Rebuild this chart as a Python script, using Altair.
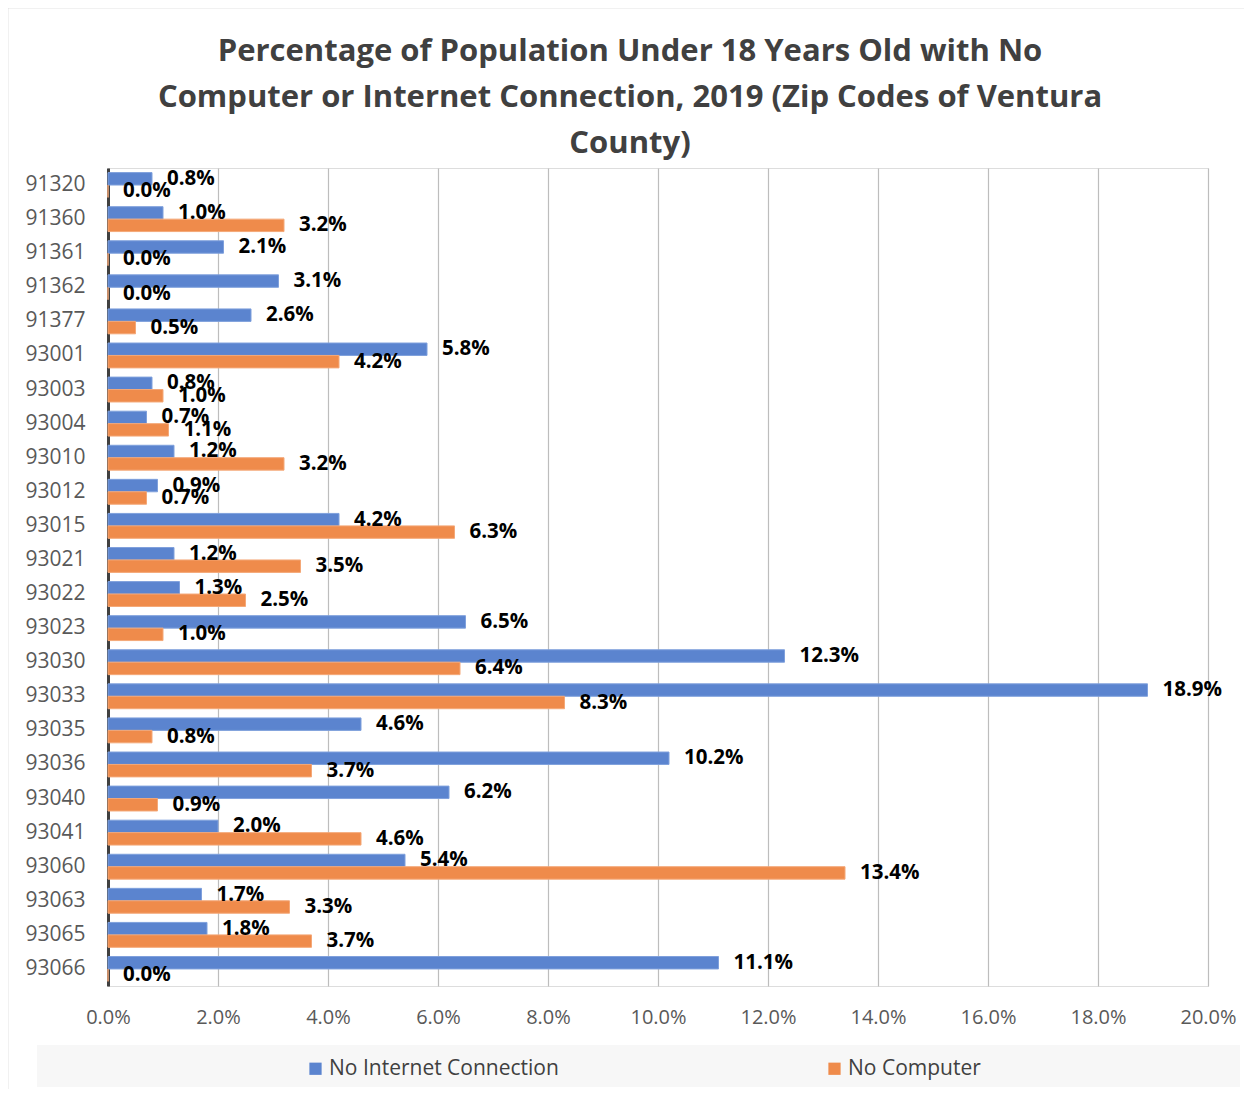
import altair as alt
import pandas as pd

zips = ["91320", "91360", "91361", "91362", "91377", "93001", "93003", "93004",
        "93010", "93012", "93015", "93021", "93022", "93023", "93030", "93033",
        "93035", "93036", "93040", "93041", "93060", "93063", "93065", "93066"]
no_internet = [0.8, 1.0, 2.1, 3.1, 2.6, 5.8, 0.8, 0.7, 1.2, 0.9, 4.2, 1.2, 1.3,
               6.5, 12.3, 18.9, 4.6, 10.2, 6.2, 2.0, 5.4, 1.7, 1.8, 11.1]
no_computer = [0.0, 3.2, 0.0, 0.0, 0.5, 4.2, 1.0, 1.1, 3.2, 0.7, 6.3, 3.5, 2.5,
               1.0, 6.4, 8.3, 0.8, 3.7, 0.9, 4.6, 13.4, 3.3, 3.7, 0.0]
series = ["No Internet Connection", "No Computer"]
colors = ["#5b84cf", "#ef8b4b"]
x_ticks = [0, 2, 4, 6, 8, 10, 12, 14, 16, 18, 20]

rows = []
for i, z in enumerate(zips):
    rows.append({"zip": z, "series": series[0], "value": no_internet[i]})
    rows.append({"zip": z, "series": series[1], "value": no_computer[i]})
df = pd.DataFrame(rows)

FONT = "Open Sans"
W, H = 1100, 818

base = alt.Chart(df).encode(
    y=alt.Y("zip:N", sort=zips, title=None,
            scale=alt.Scale(paddingInner=0.27, paddingOuter=0.135),
            axis=alt.Axis(domainColor="#404040", domainWidth=3, ticks=False,
                          labelFontSize=21, labelColor="#595959", labelFont=FONT,
                          labelPadding=23, grid=False)),
    yOffset=alt.YOffset("series:N", sort=series),
)

bars = base.mark_bar(strokeWidth=1).encode(
    x=alt.X("value:Q", title=None,
            scale=alt.Scale(domain=[0, 20], nice=False),
            axis=alt.Axis(values=x_ticks, labelExpr="format(datum.value, '.1f') + '%'",
                          labelFontSize=20, labelColor="#595959", labelFont=FONT,
                          labelPadding=21, labelFlush=False, domain=False, ticks=False,
                          grid=True, gridColor="#bdbdbd", gridWidth=1.2)),
    color=alt.Color("series:N", sort=series,
                    scale=alt.Scale(domain=series, range=colors),
                    legend=alt.Legend(orient="none", legendX=197, legendY=890,
                                      direction="horizontal", title=None,
                                      symbolType="square", symbolSize=150,
                                      symbolStrokeWidth=0, symbolOpacity=1,
                                      labelFontSize=21, labelColor="#404040",
                                      labelFont=FONT, labelOffset=3, labelLimit=500,
                                      columnPadding=265, padding=0)),
    stroke=alt.Stroke("series:N", sort=series,
                      scale=alt.Scale(domain=series, range=["#7fa0dc", "#f4a878"]),
                      legend=None),
)

labels = base.mark_text(align="left", baseline="middle", dx=15, fontSize=20.5,
                        fontWeight="bold", font=FONT, color="#000000").transform_calculate(
    label="format(datum.value, '.1f') + '%'"
).encode(
    x=alt.X("value:Q"),
    text=alt.Text("label:N"),
)

legend_bg = alt.Chart(alt.Data(values=[{}])).mark_rect(color="#f7f7f7").encode(
    x=alt.value(-71), x2=alt.value(1132), y=alt.value(877), y2=alt.value(919)
)

frame = alt.Chart(alt.Data(values=[{}])).mark_rect(
    fill="transparent", stroke="#c8c8c8", strokeWidth=1.5
).encode(
    x=alt.value(-100.5), x2=alt.value(1300), y=alt.value(-160.5), y2=alt.value(1100)
)

chart = alt.layer(frame, legend_bg, bars, labels).properties(
    width=W, height=H,
    padding={"left": 100, "top": 160, "right": 36, "bottom": 103},
    autosize=alt.AutoSizeParams(type="none"),
    title=alt.TitleParams(
        text=["Percentage of Population Under 18 Years Old with No",
              "Computer or Internet Connection, 2019 (Zip Codes of Ventura",
              "County)"],
        font=FONT, fontSize=31, fontWeight="bold", color="#404040",
        lineHeight=46, anchor="middle", dx=-28, offset=-153),
).configure_view(stroke=None).configure(background="white")

chart.save("out.html", embed_options={"renderer": "svg", "actions": False})
